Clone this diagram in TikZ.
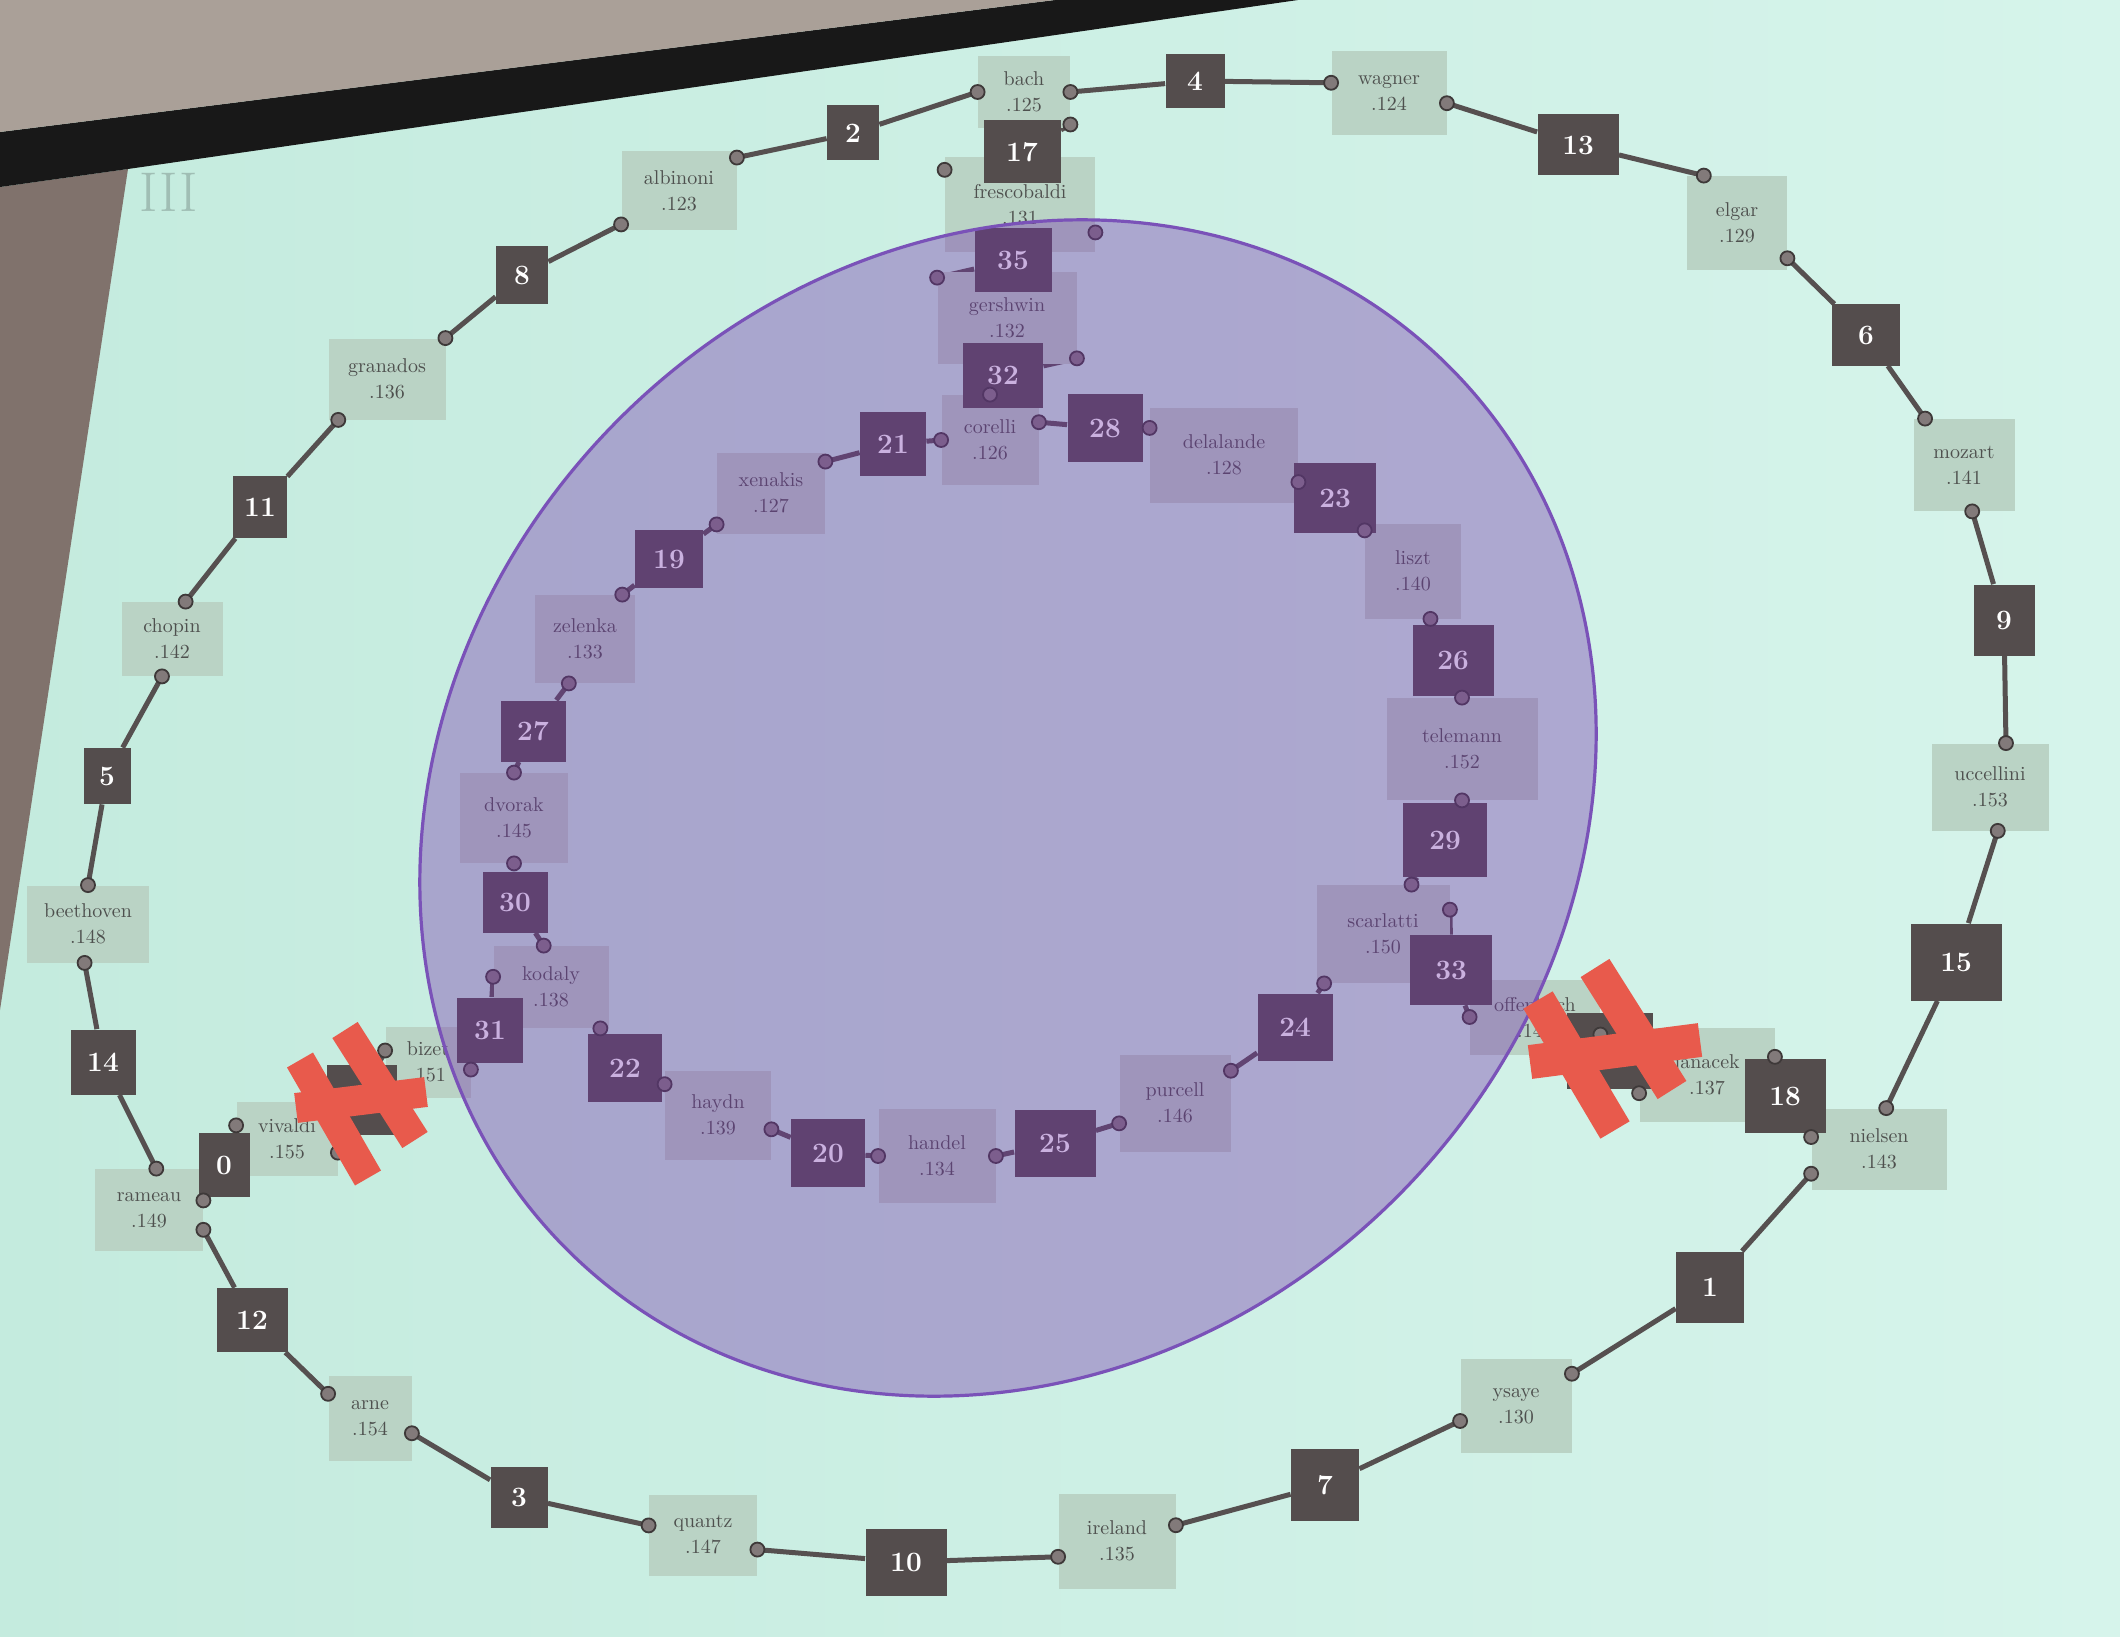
\documentclass[tikz,border=0pt]{standalone}
\pgfdeclarelayer{bgl}
\pgfdeclarelayer{edges}
\pgfdeclarelayer{ports}
\pgfdeclarelayer{ell}
\pgfdeclarelayer{topl}
\pgfsetlayers{bgl,edges,main,ports,ell,topl}
\definecolor{scrL}{RGB}{196,235,222}
\definecolor{scrR}{RGB}{214,244,235}
\definecolor{wallL}{RGB}{128,114,108}
\definecolor{wallT}{RGB}{170,160,152}
\definecolor{band}{RGB}{24,24,24}
\definecolor{boxc}{RGB}{186,211,197}
\definecolor{txtc}{RGB}{78,80,78}
\definecolor{darkc}{RGB}{84,77,77}
\definecolor{wirec}{RGB}{86,80,80}
\definecolor{portf}{RGB}{130,122,122}
\definecolor{portd}{RGB}{62,57,57}
\definecolor{redc}{RGB}{232,90,76}
\definecolor{ellf}{RGB}{116,50,172}
\definecolor{ellc}{RGB}{122,82,184}
\definecolor{romc}{RGB}{160,190,180}
\newcommand{\mylink}[2]{%
  \begin{pgfonlayer}{edges}\draw[wire] (#1) -- (#2);\end{pgfonlayer}%
  \begin{pgfonlayer}{ports}\filldraw[prt] (#1) circle[radius=3.5pt];\end{pgfonlayer}}
\begin{document}
\begin{tikzpicture}[x=0.5pt,y=-0.5pt,
  nm/.style={rectangle, fill=boxc, text=txtc, align=center, inner sep=1pt,
    font=\fontsize{10}{13}\selectfont},
  num/.style={rectangle, fill=darkc, text=white, inner sep=1pt,
    font=\fontsize{14}{14}\selectfont\bfseries},
  wire/.style={draw=wirec, line width=2.5pt},
  prt/.style={fill=portf, draw=portd, line width=0.9pt},
  redbar/.style={draw=redc, line width=17pt}]
\useasboundingbox (0,0) rectangle (2120,1637);
\begin{pgfonlayer}{bgl}
  \shade[left color=scrL, right color=scrR] (0,0) rectangle (2120,1637);
  \fill[wallL] (0,187) -- (128,169) -- (0,1010) -- cycle;
  \fill[band] (0,132) -- (1055,0) -- (1298,0) -- (128,169) -- (0,187) -- cycle;
  \fill[wallT] (0,0) -- (1055,0) -- (0,132) -- cycle;
  \node[text=romc, font=\fontsize{28}{28}\selectfont, inner sep=0] (roman) at (169,192) {III};
\end{pgfonlayer}

% name boxes
\node[nm, minimum width=46pt, minimum height=36pt] (bach) at (1024,92) {bach\\.125};
\node[nm, minimum width=57.5pt, minimum height=42pt] (wagner) at (1389,93) {wagner\\.124};
\node[nm, minimum width=50pt, minimum height=47pt] (elgar) at (1737,223) {elgar\\.129};
\node[nm, minimum width=50.5pt, minimum height=46pt] (mozart) at (1964,465) {mozart\\.141};
\node[nm, minimum width=58.5pt, minimum height=43.5pt] (uccellini) at (1990,787) {uccellini\\.153};
\node[nm, minimum width=67.5pt, minimum height=40.5pt] (nielsen) at (1879,1149) {nielsen\\.143};
\node[nm, minimum width=67.5pt, minimum height=47pt] (janacek) at (1707,1075) {janacek\\.137};
\node[nm, minimum width=65pt, minimum height=37.5pt] (offenbach) at (1535,1017) {offenbach\\.144};
\node[nm, minimum width=55.5pt, minimum height=47pt] (ysaye) at (1516,1406) {ysaye\\.130};
\node[nm, minimum width=58.5pt, minimum height=47.5pt] (ireland) at (1117,1541) {ireland\\.135};
\node[nm, minimum width=54pt, minimum height=40.5pt] (quantz) at (703,1535) {quantz\\.147};
\node[nm, minimum width=41.5pt, minimum height=42.5pt] (arne) at (370,1418) {arne\\.154};
\node[nm, minimum width=54pt, minimum height=41pt] (rameau) at (149,1210) {rameau\\.149};
\node[nm, minimum width=50.5pt, minimum height=37pt] (vivaldi) at (287,1139) {vivaldi\\.155};
\node[nm, minimum width=42.5pt, minimum height=35.5pt] (bizet) at (428,1062) {bizet\\.151};
\node[nm, minimum width=61pt, minimum height=38.5pt] (beethoven) at (88,924) {beethoven\\.148};
\node[nm, minimum width=50.5pt, minimum height=37pt] (chopin) at (172,639) {chopin\\.142};
\node[nm, minimum width=58.5pt, minimum height=40.5pt] (granados) at (387,379) {granados\\.136};
\node[nm, minimum width=57.5pt, minimum height=39.5pt] (albinoni) at (679,191) {albinoni\\.123};
\node[nm, minimum width=75pt, minimum height=47.5pt] (frescobaldi) at (1020,205) {frescobaldi\\.131};
\node[nm, minimum width=69.5pt, minimum height=45.5pt] (gershwin) at (1007,318) {gershwin\\.132};
\node[nm, minimum width=48.5pt, minimum height=45pt] (corelli) at (990,440) {corelli\\.126};
\node[nm, minimum width=74pt, minimum height=47.5pt] (delalande) at (1224,455) {delalande\\.128};
\node[nm, minimum width=48pt, minimum height=47.5pt] (liszt) at (1413,571) {liszt\\.140};
\node[nm, minimum width=75.5pt, minimum height=51pt] (telemann) at (1462,749) {telemann\\.152};
\node[nm, minimum width=66.5pt, minimum height=49pt] (scarlatti) at (1383,934) {scarlatti\\.150};
\node[nm, minimum width=55.5pt, minimum height=48.5pt] (purcell) at (1175,1103) {purcell\\.146};
\node[nm, minimum width=58.5pt, minimum height=47pt] (handel) at (937,1156) {handel\\.134};
\node[nm, minimum width=53pt, minimum height=44.5pt] (haydn) at (718,1115) {haydn\\.139};
\node[nm, minimum width=57.5pt, minimum height=41pt] (kodaly) at (551,987) {kodaly\\.138};
\node[nm, minimum width=54pt, minimum height=45pt] (dvorak) at (514,818) {dvorak\\.145};
\node[nm, minimum width=50pt, minimum height=44pt] (zelenka) at (585,639) {zelenka\\.133};
\node[nm, minimum width=54pt, minimum height=40.5pt] (xenakis) at (771,493) {xenakis\\.127};

% number boxes
\node[num, minimum width=26pt, minimum height=27.5pt] (n2) at (853,133) {2};
\node[num, minimum width=29.5pt, minimum height=27pt] (n4) at (1195,81) {4};
\node[num, minimum width=40.5pt, minimum height=30.5pt] (n13) at (1578,145) {13};
\node[num, minimum width=34pt, minimum height=30.5pt] (n6) at (1866,335) {6};
\node[num, minimum width=30.5pt, minimum height=35.5pt] (n9) at (2004,620) {9};
\node[num, minimum width=45.5pt, minimum height=38.5pt] (n15) at (1956,962) {15};
\node[num, minimum width=40.5pt, minimum height=37pt] (n18) at (1785,1096) {18};
\node[num, minimum width=43pt, minimum height=38pt] (nR) at (1610,1051) {};
\node[num, minimum width=34pt, minimum height=35.5pt] (n1) at (1710,1287) {1};
\node[num, minimum width=34pt, minimum height=36pt] (n7) at (1325,1485) {7};
\node[num, minimum width=40.5pt, minimum height=33.5pt] (n10) at (906,1562) {10};
\node[num, minimum width=28.5pt, minimum height=30.5pt] (n3) at (519,1497) {3};
\node[num, minimum width=35.5pt, minimum height=32pt] (n12) at (252,1320) {12};
\node[num, minimum width=25.5pt, minimum height=32pt] (n0) at (224,1165) {0};
\node[num, minimum width=35pt, minimum height=35pt] (nL) at (362,1100) {};
\node[num, minimum width=32.5pt, minimum height=32.5pt] (n14) at (103,1062) {14};
\node[num, minimum width=23.5pt, minimum height=28pt] (n5) at (107,776) {5};
\node[num, minimum width=27pt, minimum height=31pt] (n11) at (260,507) {11};
\node[num, minimum width=26pt, minimum height=29pt] (n8) at (522,275) {8};
\node[num, minimum width=38.5pt, minimum height=31.5pt] (n17) at (1022,152) {17};
\node[num, minimum width=38.5pt, minimum height=32pt] (n35) at (1013,260) {35};
\node[num, minimum width=40pt, minimum height=32.5pt] (n32) at (1003,375) {32};
\node[num, minimum width=37.5pt, minimum height=34pt] (n28) at (1105,428) {28};
\node[num, minimum width=41pt, minimum height=35pt] (n23) at (1335,498) {23};
\node[num, minimum width=40.5pt, minimum height=35.5pt] (n26) at (1453,660) {26};
\node[num, minimum width=42pt, minimum height=37pt] (n29) at (1445,840) {29};
\node[num, minimum width=41pt, minimum height=35pt] (n33) at (1451,970) {33};
\node[num, minimum width=37.5pt, minimum height=33.5pt] (n24) at (1295,1027) {24};
\node[num, minimum width=40.5pt, minimum height=33.5pt] (n25) at (1055,1143) {25};
\node[num, minimum width=37pt, minimum height=34pt] (n20) at (828,1153) {20};
\node[num, minimum width=37pt, minimum height=34pt] (n22) at (625,1068) {22};
\node[num, minimum width=33pt, minimum height=32.5pt] (n31) at (490,1030) {31};
\node[num, minimum width=32.5pt, minimum height=30.5pt] (n30) at (515,902) {30};
\node[num, minimum width=32.5pt, minimum height=30.5pt] (n27) at (533,731) {27};
\node[num, minimum width=34pt, minimum height=29pt] (n19) at (669,559) {19};
\node[num, minimum width=33pt, minimum height=32pt] (n21) at (893,444) {21};

% connectors (outer ring)
\mylink{bach.west}{n2}
\mylink{bach.east}{n4}
\mylink{wagner.170}{n4}
\mylink{wagner.-10}{n13}
\mylink{elgar.125}{n13}
\mylink{elgar.-35}{n6}
\mylink{mozart.130}{n6}
\mylink{mozart.-80}{n9}
\mylink{uccellini.70}{n9}
\mylink{uccellini.-80}{n15}
\mylink{nielsen.80}{n15}
\mylink{nielsen.-160}{n1}
\mylink{nielsen.170}{n18}
\mylink{janacek.15}{n18}
\mylink{janacek.195}{nR}
\mylink{offenbach.-15}{nR}
\mylink{offenbach.west}{n33}
\mylink{ysaye.30}{n1}
\mylink{ysaye.195}{n7}
\mylink{ireland.15}{n7}
\mylink{ireland.195}{n10}
\mylink{quantz.-15}{n10}
\mylink{quantz.170}{n3}
\mylink{arne.-20}{n3}
\mylink{arne.150}{n12}
\mylink{rameau.-20}{n12}
\mylink{rameau.10}{n0}
\mylink{rameau.80}{n14}
\mylink{beethoven.-95}{n14}
\mylink{beethoven.90}{n5}
\mylink{chopin.-105}{n5}
\mylink{chopin.70}{n11}
\mylink{granados.-140}{n11}
\mylink{granados.35}{n8}
\mylink{albinoni.-150}{n8}
\mylink{albinoni.30}{n2}
\mylink{vivaldi.165}{n0}
\mylink{vivaldi.-15}{nL}
\mylink{bizet.165}{nL}
\mylink{bizet.-10}{n31}
% inner chain
\mylink{bach.-35}{n17}
\mylink{frescobaldi.155}{n17}
\mylink{frescobaldi.-20}{n35}
\mylink{gershwin.150}{n35}
\mylink{gershwin.-30}{n32}
\mylink{corelli.90}{n32}
\mylink{corelli.20}{n28}
\mylink{corelli.180}{n21}
\mylink{xenakis.30}{n21}
\mylink{xenakis.-150}{n19}
\mylink{zelenka.50}{n19}
\mylink{zelenka.-110}{n27}
\mylink{dvorak.90}{n27}
\mylink{dvorak.-90}{n30}
\mylink{kodaly.100}{n30}
\mylink{kodaly.170}{n31}
\mylink{kodaly.-40}{n22}
\mylink{haydn.150}{n22}
\mylink{haydn.-15}{n20}
\mylink{handel.180}{n20}
\mylink{handel.0}{n25}
\mylink{purcell.200}{n25}
\mylink{purcell.30}{n24}
\mylink{scarlatti.-140}{n24}
\mylink{scarlatti.20}{n33}
\mylink{scarlatti.60}{n29}
\mylink{telemann.-90}{n29}
\mylink{telemann.90}{n26}
\mylink{liszt.-70}{n26}
\mylink{liszt.140}{n23}
\mylink{delalande.-20}{n23}
\mylink{delalande.160}{n28}

% translucent ellipse
\begin{pgfonlayer}{ell}
  \draw[draw=ellc, line width=1.6pt, fill=ellf, fill opacity=0.38]
    [rotate around={45:(1008,808)}] (1008,808) ellipse [x radius=312pt, y radius=275pt];
\end{pgfonlayer}

% red crosses
\begin{pgfonlayer}{topl}
  \draw[redbar] (1538,1000) -- (1615,1130);
  \draw[redbar] (1595,968) -- (1672,1090);
  \draw[redbar] (1530,1062) -- (1700,1040);
  \draw[redbar, line width=15pt] (300,1060) -- (368,1178);
  \draw[redbar, line width=15pt] (345,1030) -- (415,1140);
  \draw[redbar, line width=15pt] (296,1108) -- (426,1092);
\end{pgfonlayer}
\end{tikzpicture}
\end{document}
